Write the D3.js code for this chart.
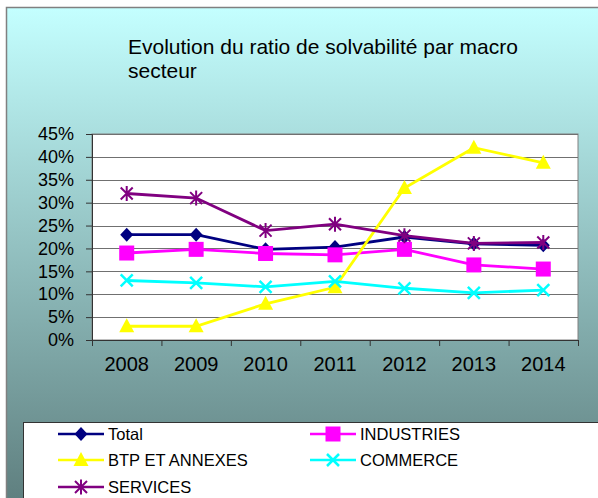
<!DOCTYPE html>
<html>
<head>
<meta charset="utf-8">
<script src="https://cdn.jsdelivr.net/npm/d3@7"></script>
<style>
  body { margin: 0; background: #fff; }
  svg { display: block; font-family: Arial, "Liberation Sans", sans-serif; }
</style>
</head>
<body>
<svg id="chart" width="598" height="498"></svg>
<script>
const years = ['2008', '2009', '2010', '2011', '2012', '2013', '2014'];
const total = [23.0, 23.0, 19.8, 20.3, 22.5, 21.0, 20.7];
const industries = [19.0, 19.8, 18.9, 18.6, 19.8, 16.4, 15.5];
const btp = [3.0, 3.0, 7.9, 11.5, 33.2, 42.0, 38.7];
const commerce = [13.0, 12.5, 11.6, 12.8, 11.3, 10.3, 10.9];
const services = [32.0, 31.0, 23.9, 25.3, 22.8, 21.1, 21.3];
const yTicks = [0, 5, 10, 15, 20, 25, 30, 35, 40, 45];
const titleLines = ['Evolution du ratio de solvabilité par macro', 'secteur'];

const series = [
  {name: 'Total', values: total, color: '#000080', marker: 'diamond'},
  {name: 'INDUSTRIES', values: industries, color: '#ff00ff', marker: 'square'},
  {name: 'BTP ET ANNEXES', values: btp, color: '#ffff00', marker: 'triangle'},
  {name: 'COMMERCE', values: commerce, color: '#00ffff', marker: 'cross'},
  {name: 'SERVICES', values: services, color: '#800080', marker: 'star'}
];

const svg = d3.select('#chart');
const W = 598, H = 498;
const plot = {left: 92, top: 134, right: 578, bottom: 340};

// background gradient like the spreadsheet chart area
const defs = svg.append('defs');
const grad = defs.append('linearGradient')
    .attr('id', 'bg').attr('x1', 0).attr('y1', 0).attr('x2', 0).attr('y2', 1);
grad.append('stop').attr('offset', '0%').attr('stop-color', '#c4ffff');
grad.append('stop').attr('offset', '100%').attr('stop-color', '#5e7e7e');

svg.append('rect')
    .attr('x', 6.5).attr('y', 7.5)
    .attr('width', W).attr('height', H)
    .attr('fill', 'url(#bg)')
    .attr('stroke', '#808080')
    .attr('stroke-width', 1.5);

svg.append('g')
  .selectAll('text')
  .data(titleLines)
  .join('text')
    .attr('x', 128)
    .attr('y', (d, i) => 54 + i * 24)
    .attr('font-size', 21)
    .attr('fill', '#000')
    .text(d => d);

const x = d3.scaleBand().domain(years).range([plot.left, plot.right]);
const xEdge = d3.scaleLinear().domain([0, years.length]).range([plot.left, plot.right]);
const y = d3.scaleLinear().domain([0, 45]).range([plot.bottom, plot.top]);

svg.append('rect')
    .attr('x', plot.left).attr('y', plot.top)
    .attr('width', plot.right - plot.left).attr('height', plot.bottom - plot.top)
    .attr('fill', '#fff')
    .attr('stroke', '#808080');

// gridlines
svg.append('g')
  .selectAll('line')
  .data(yTicks.slice(1))
  .join('line')
    .attr('x1', plot.left).attr('x2', plot.right)
    .attr('y1', d => Math.round(y(d)) + 0.5).attr('y2', d => Math.round(y(d)) + 0.5)
    .attr('stroke', '#707070');

svg.append('g')
    .attr('transform', `translate(${plot.left},0)`)
    .call(d3.axisLeft(y).tickValues(yTicks).tickFormat(d => d + '%').tickSize(6).tickPadding(12))
    .call(g => g.selectAll('.domain, .tick line').attr('stroke', '#333'))
    .call(g => g.selectAll('.tick text').attr('font-size', 18).attr('fill', '#000')
      .attr('font-family', 'Arial, "Liberation Sans", sans-serif'));

svg.append('g')
    .attr('transform', `translate(0,${plot.bottom})`)
    .call(d3.axisBottom(xEdge).ticks(years.length).tickFormat('').tickSize(6).tickSizeOuter(6))
    .call(g => g.selectAll('.domain, .tick line').attr('stroke', '#333'));

svg.append('g')
    .attr('transform', `translate(0,${plot.bottom})`)
    .call(d3.axisBottom(x).tickSize(0).tickPadding(17))
    .call(g => g.select('.domain').remove())
    .call(g => g.selectAll('.tick text').attr('font-size', 20).attr('fill', '#000')
      .attr('font-family', 'Arial, "Liberation Sans", sans-serif'));

function drawMarker(g, type, color) {
  if (type === 'diamond') {
    g.append('path').attr('d', 'M0,-7L6.5,0L0,7L-6.5,0Z').attr('fill', color);
  } else if (type === 'square') {
    g.append('rect').attr('x', -7.5).attr('y', -7.5).attr('width', 15).attr('height', 15).attr('fill', color);
  } else if (type === 'triangle') {
    g.append('path').attr('d', 'M0,-8L7.5,6L-7.5,6Z').attr('fill', color);
  } else if (type === 'cross') {
    g.append('path').attr('d', 'M-6,-6L6,6M-6,6L6,-6')
      .attr('stroke', color).attr('stroke-width', 2.5).attr('fill', 'none');
  } else if (type === 'star') {
    g.append('path').attr('d', 'M-6,-6L6,6M-6,6L6,-6M0,-7.5L0,7.5')
      .attr('stroke', color).attr('stroke-width', 2).attr('fill', 'none');
  }
}

const line = d3.line()
  .x((d, i) => x(years[i]) + x.bandwidth() / 2)
  .y(d => y(d));

const seriesG = svg.append('g')
  .selectAll('g')
  .data(series)
  .join('g');

seriesG.append('path')
    .attr('d', d => line(d.values))
    .attr('fill', 'none')
    .attr('stroke', d => d.color)
    .attr('stroke-width', 2.8);

seriesG.each(function(s) {
  d3.select(this).selectAll('g.pt')
    .data(s.values)
    .join('g')
      .attr('class', 'pt')
      .attr('transform', (d, i) => `translate(${x(years[i]) + x.bandwidth() / 2},${y(d)})`)
      .each(function() { drawMarker(d3.select(this), s.marker, s.color); });
});

// legend
svg.append('rect')
    .attr('x', 23.5).attr('y', 422.5)
    .attr('width', W).attr('height', 100)
    .attr('fill', '#fff')
    .attr('stroke', '#333');

const legendPos = [[58, 434], [310, 434], [58, 460], [310, 460], [58, 487]];
const legend = svg.append('g')
  .selectAll('g')
  .data(series)
  .join('g')
    .attr('transform', (d, i) => `translate(${legendPos[i][0]},${legendPos[i][1]})`);

legend.append('line')
    .attr('x1', 0).attr('x2', 46)
    .attr('stroke', d => d.color)
    .attr('stroke-width', 2.5);

legend.append('g')
    .attr('transform', 'translate(23,0)')
    .each(function(d) { drawMarker(d3.select(this), d.marker, d.color); });

legend.append('text')
    .attr('x', 50)
    .attr('dy', '0.35em')
    .attr('font-size', 16.5)
    .attr('fill', '#000')
    .text(d => d.name);
</script>
</body>
</html>
